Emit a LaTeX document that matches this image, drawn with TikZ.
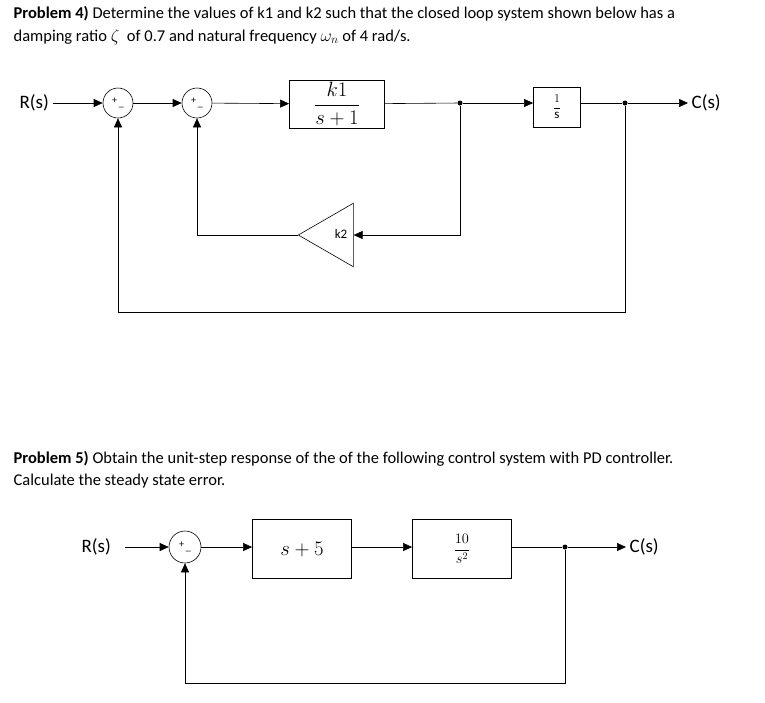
\documentclass[tikz,border=0pt]{standalone}
\usepackage{fontspec}
\setmainfont{Carlito}
\usetikzlibrary{shapes.geometric,arrows.meta}
\tikzset{
  block/.style={draw, thick, fill=white, inner sep=0pt},
  sumnode/.style={draw, circle, minimum size=30pt, inner sep=0pt},
  gain/.style={draw, isosceles triangle, shape border rotate=180, isosceles triangle apex angle=60, minimum height=55pt, inner sep=0pt},
  dot/.style={circle, fill, inner sep=0pt, minimum size=5pt},
  sig/.style={-{Triangle[length=9pt,width=8pt]}},
  lbl/.style={anchor=west, font=\fontsize{19}{22}\selectfont},
  ptext/.style={anchor=west, font=\fontsize{16.5}{20}\selectfont}
}
\newcommand{\sumsigns}{\fontsize{10}{10}\selectfont\raisebox{2pt}{+}\,\raisebox{-1pt}{\_}}
\begin{document}
\begin{tikzpicture}[x=1pt,y=-1pt, every path/.style={semithick}]
\useasboundingbox (0,0) rectangle (765,702);

% problem texts
\node[ptext] (ptitleA) at (10,14) {\textbf{Problem 4)} Determine the values of k1 and k2 such that the closed loop system shown below has a};
\node[ptext] (ptextA) at (10,37) {damping ratio $\zeta$\ \ of 0.7 and natural frequency $\omega_n$ of 4 rad/s.};
\node[ptext] (ptitleB) at (10,459) {\textbf{Problem 5)} Obtain the unit-step response of the of the following control system with PD controller.};
\node[ptext] (ptextB) at (10,481) {Calculate the steady state error.};

% problem 4 nodes
\node[lbl] (rA) at (16,103) {R(s)};
\node[sumnode] (sA1) at (118,103) {\sumsigns};
\node[sumnode] (sA2) at (197,103) {\sumsigns};
\node[block, minimum width=95pt, minimum height=48pt] (gA1) at (337,104) {\fontsize{20}{24}\selectfont$\displaystyle\frac{k1}{s+1}$};
\node[dot] (jA1) at (460,103) {};
\node[block, minimum width=47pt, minimum height=40pt] (gA2) at (557,107) {\fontsize{13}{15}\selectfont$\displaystyle\frac{1}{\mathrm{s}}$};
\node[dot] (jA2) at (625,103) {};
\node[lbl] (cA) at (688,103) {C(s)};
\node[gain] (kA) at (335,235) {};
\node at (341,234) {\fontsize{13}{15}\selectfont k2};
\coordinate (cnA1) at (197,235);
\coordinate (cnA2) at (460,235);
\coordinate (cnA3) at (625,312);
\coordinate (cnA4) at (118,312);

% problem 4 connections
\draw[sig] (rA) -- (sA1);
\draw[sig] (sA1) -- (sA2);
\draw[sig] (sA2) -- (gA1);
\draw (gA1) -- (jA1);
\draw[sig] (jA1) -- (gA2.west |- jA1);
\draw (gA2.east |- jA2) -- (jA2);
\draw[sig] (jA2) -- (cA);
\draw[sig] (jA1) -- (cnA2) -- (kA.east);
\draw[sig] (kA.apex) -- (cnA1) -- (sA2);
\draw[sig] (jA2) -- (cnA3) -- (cnA4) -- (sA1);

% problem 5 nodes
\node[lbl] (rB) at (78,547) {R(s)};
\node[sumnode, minimum size=32pt] (sB) at (185,547) {\sumsigns};
\node[block, minimum width=99pt, minimum height=59pt] (gB1) at (302,549) {\fontsize{20}{24}\selectfont$s+5$};
\node[block, minimum width=99pt, minimum height=59pt] (gB2) at (462,549) {\fontsize{14}{17}\selectfont$\displaystyle\frac{10}{s^2}$};
\node[dot] (jB) at (565,547) {};
\node[lbl] (cB) at (626,547) {C(s)};
\coordinate (rBend) at (125,547);
\coordinate (cnB1) at (565,683);
\coordinate (cnB2) at (185,683);

% problem 5 connections
\draw[sig] (rBend) -- (sB);
\draw[sig] (sB) -- (gB1.west |- sB);
\draw[sig] (gB1.east |- sB) -- (gB2.west |- sB);
\draw (gB2.east |- jB) -- (jB);
\draw[sig] (jB) -- (cB);
\draw[sig] (jB) -- (cnB1) -- (cnB2) -- (sB);
\end{tikzpicture}
\end{document}
